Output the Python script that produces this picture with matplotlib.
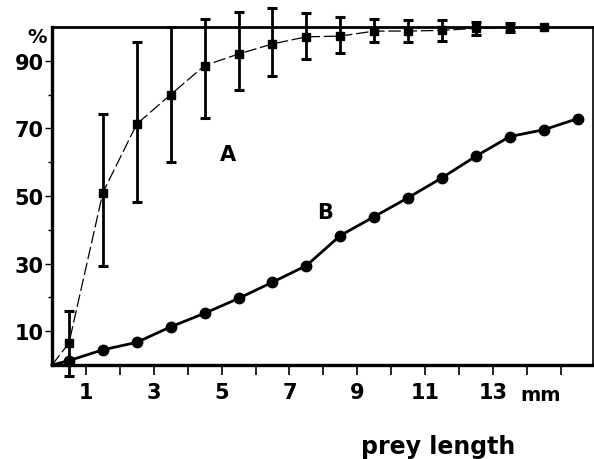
import matplotlib
matplotlib.use("Agg")
import matplotlib.pyplot as plt
import numpy as np

# ---- data ----
A_x = [0.5, 1.5, 2.5, 3.5, 4.5, 5.5, 6.5, 7.5, 8.5, 9.5, 10.5, 11.5, 12.5, 13.5, 14.5]
A_y = [6.5, 51, 71.3, 80, 88.6, 92, 95, 97.1, 97.3, 98.8, 98.8, 99.0, 99.6, 99.9, 100]
A_top = [16, 74.2, 95.6, 100, 102.5, 104.5, 105.7, 104.2, 103, 102.3, 102, 102, 101.5, 101.2, 100]
A_bot = [-3.4, 29.4, 48.2, 60, 73.1, 81.3, 85.4, 90.4, 92.4, 95.6, 95.6, 96, 97.6, 98.6, 100]

B_x = [0.5, 1.5, 2.5, 3.5, 4.5, 5.5, 6.5, 7.5, 8.5, 9.5, 10.5, 11.5, 12.5, 13.5, 14.5, 15.5]
B_y = [1.3, 4.5, 6.7, 11.3, 15.3, 19.7, 24.5, 29.4, 38.3, 43.9, 49.5, 55.4, 61.8, 67.6, 69.6, 72.9]

origin = (0, 0)

x_major = list(range(1, 16))
x_labels = ["1", "", "3", "", "5", "", "7", "", "9", "", "11", "", "13", "", ""]
y_major = [10, 30, 50, 70, 90]
y_minor = [20, 40, 60, 80]

FONT = "DejaVu Sans"

fig = plt.figure(figsize=(5.94, 4.60), dpi=100)
ax = fig.add_axes([52 / 594, (460 - 366) / 460, (593 - 52) / 594, (366 - 28) / 460])

ax.set_xlim(0, 15.95)
ax.set_ylim(0, 100)

# A : dashed line with square markers and error bars
ax.plot([origin[0]] + A_x, [origin[1]] + A_y, color="black", lw=0.9,
        dashes=(10, 3), clip_on=False, zorder=2)
A_yarr = np.array(A_y)
yerr = np.vstack([A_yarr - np.array(A_bot), np.array(A_top) - A_yarr])
ax.errorbar(A_x, A_y, yerr=yerr, fmt="s", color="black", ms=6,
            elinewidth=2.0, capsize=3.8, capthick=2.2, clip_on=False, zorder=3)

# B : solid thick line with round markers
ax.plot([origin[0]] + B_x, [origin[1]] + B_y, color="black", lw=2.0,
        clip_on=False, zorder=3)
ax.plot(B_x, B_y, "o", color="black", ms=7.5, clip_on=False, zorder=4)

# spines
for side, lw in [("left", 2.4), ("bottom", 2.4), ("top", 2.0), ("right", 1.2)]:
    ax.spines[side].set_linewidth(lw)

# ticks
ax.set_xticks(x_major)
ax.set_xticklabels(x_labels, fontsize=15, fontweight="bold", family=FONT)
ax.set_yticks(y_major)
ax.set_yticklabels([str(v) for v in y_major], fontsize=15, fontweight="bold", family=FONT)
ax.set_yticks(y_minor, minor=True)
ax.tick_params(axis="x", direction="out", length=7, width=1.2, pad=5)
ax.tick_params(axis="y", which="major", direction="out", length=5, width=1.0, pad=1)
ax.tick_params(axis="y", which="minor", direction="out", length=3, width=1.0)

# texts
ax.text(-0.45, 97.3, "%", ha="center", va="center", clip_on=False,
        fontsize=14, fontweight="bold", family=FONT)
ax.text(5.2, 62.5, "A", ha="center", va="center", fontsize=15, fontweight="bold", family=FONT)
ax.text(8.05, 45.3, "B", ha="center", va="center", fontsize=15, fontweight="bold", family=FONT)
ax.text(14.4, -8.8, "mm", ha="center", va="center", clip_on=False,
        fontsize=14, fontweight="bold", family=FONT)
fig.text(438 / 594, 1 - 447 / 460, "prey length", ha="center", va="center",
         fontsize=17, fontweight="bold", family=FONT)

fig.savefig("out.png", dpi=100)
